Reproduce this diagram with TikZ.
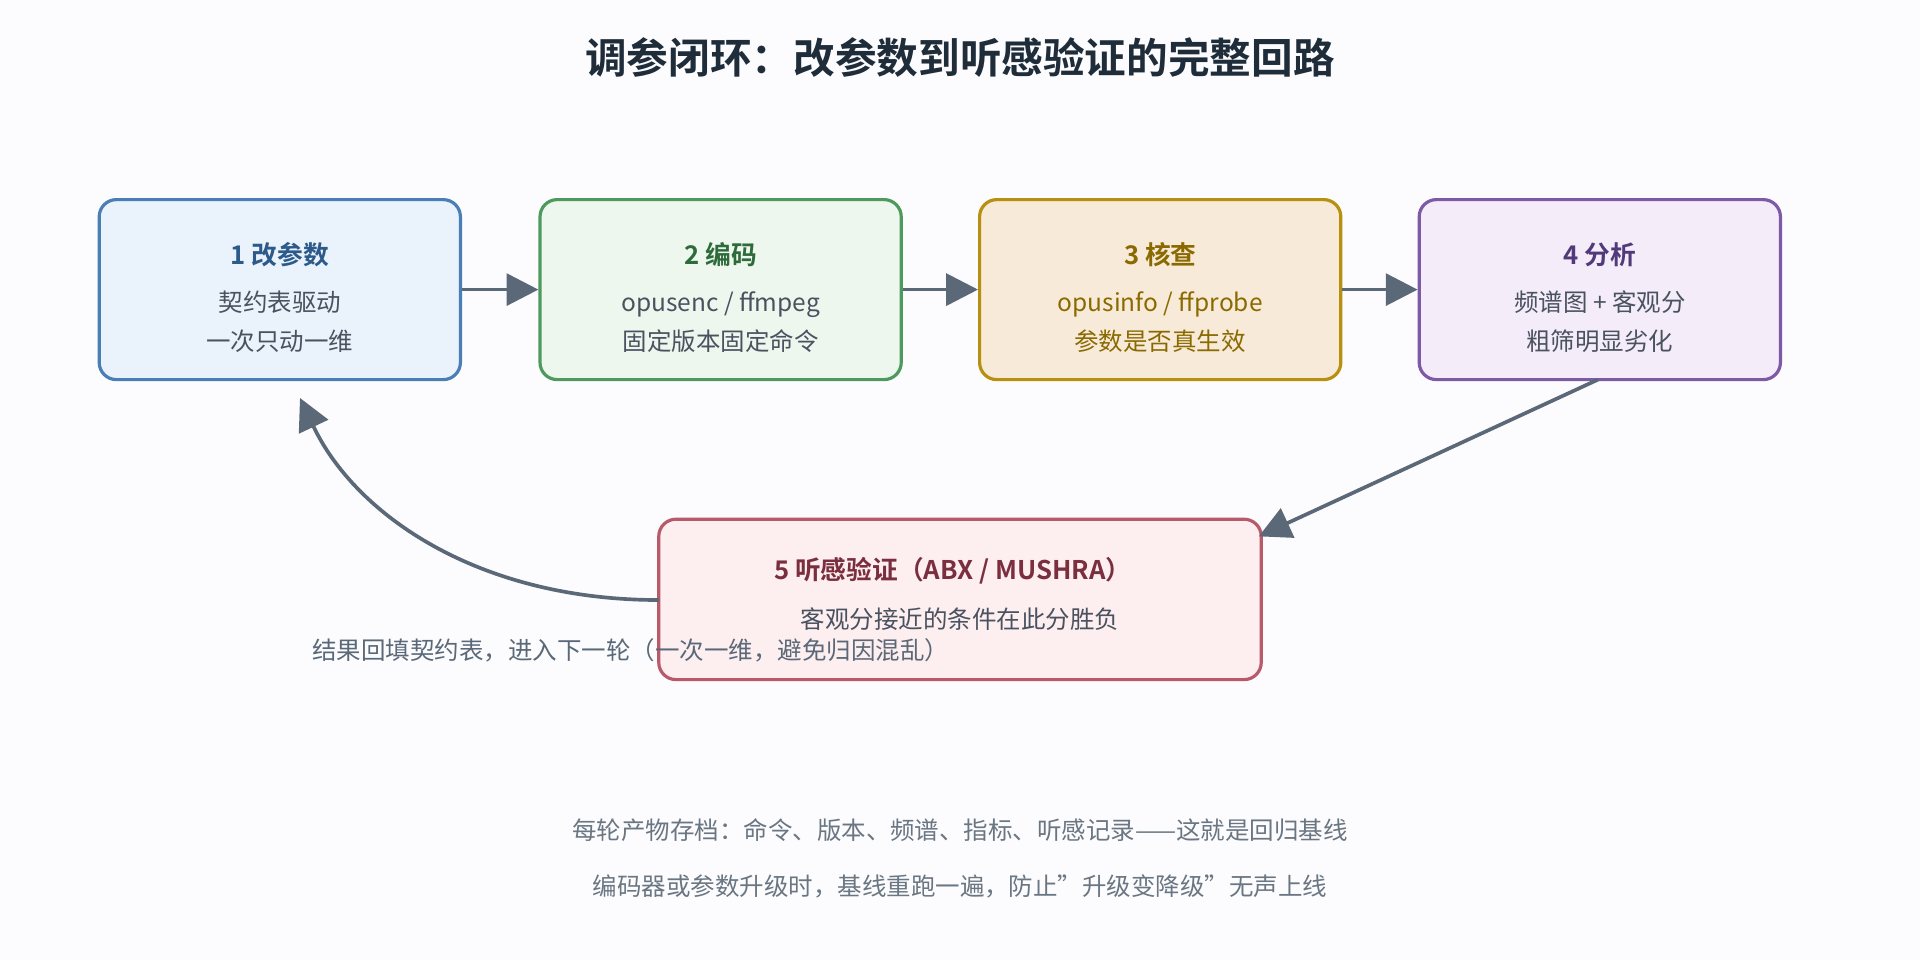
\documentclass[tikz,border=0pt]{standalone}
\usepackage{fontspec}
\setmainfont{Noto Sans CJK SC}[BoldFont={Noto Sans CJK SC Bold}]
\usetikzlibrary{arrows.meta}
\definecolor{bg}{HTML}{FCFCFE}
\definecolor{arr}{HTML}{5A6878}
\definecolor{ttl}{HTML}{1F2D3A}
\definecolor{foot}{HTML}{6A7682}
\definecolor{bA}{HTML}{4A7FB5}\definecolor{fA}{HTML}{EAF2FC}\definecolor{tA}{HTML}{2C5A8A}
\definecolor{bB}{HTML}{4E9A5E}\definecolor{fB}{HTML}{EDF7EE}\definecolor{tB}{HTML}{2E6B3A}
\definecolor{bC}{HTML}{B8900F}\definecolor{fC}{HTML}{F8EAD8}\definecolor{tC}{HTML}{8A6A00}
\definecolor{bD}{HTML}{7D5AA6}\definecolor{fD}{HTML}{F4ECF9}\definecolor{tD}{HTML}{523A7A}
\definecolor{bE}{HTML}{B85A6A}\definecolor{fE}{HTML}{FDEEF0}\definecolor{tE}{HTML}{7A2E3E}
\definecolor{body}{HTML}{4A5260}
\tikzset{
 box/.style={draw, line width=1.3pt, rounded corners=7pt, minimum width=147.5pt, minimum height=73.5pt, inner sep=0pt},
 con/.style={draw=arr, line width=1.5pt, -{Triangle[length=13pt,width=13pt]}},
 ttl/.style={font=\bfseries\fontsize{10.5}{13}\selectfont},
 bod/.style={font=\fontsize{10}{16}\selectfont, align=center, text=body}
}
\begin{document}
\begin{tikzpicture}[x=0.5pt,y=-0.5pt]
\fill[bg] (0,0) rectangle (1568,784);
\useasboundingbox (0,0) rectangle (1568,784);
\node[text=ttl, font=\bfseries\fontsize{17}{20}\selectfont] (title) at (784,47) {调参闭环：改参数到听感验证的完整回路};
\node[box, draw=bA, fill=fA] (b1) at (228.5,236.5) {};
\node[box, draw=bB, fill=fB] (b2) at (588.5,236.5) {};
\node[box, draw=bC, fill=fC] (b3) at (947.5,236.5) {};
\node[box, draw=bD, fill=fD] (b4) at (1306.5,236.5) {};
\node[box, draw=bE, fill=fE, minimum width=246pt, minimum height=65.5pt] (b5) at (784,489.5) {};
\node[ttl, text=tA] (t1) at (228.5,208) {1 改参数};
\node[bod] (d1) at (228.5,263) {契约表驱动\\一次只动一维};
\node[ttl, text=tB] (t2) at (588.5,208) {2 编码};
\node[bod] (d2) at (588.5,263) {opusenc / ffmpeg\\固定版本固定命令};
\node[ttl, text=tC] (t3) at (947.5,208) {3 核查};
\node[bod, text=tC] (d3) at (947.5,263) {opusinfo / ffprobe\\参数是否真生效};
\node[ttl, text=tD] (t4) at (1306.5,208) {4 分析};
\node[bod] (d4) at (1306.5,263) {频谱图 + 客观分\\粗筛明显劣化};
\node[ttl, text=tE] (t5) at (778,466) {5 听感验证（ABX / MUSHRA）};
\node[bod] (d5) at (784,506) {客观分接近的条件在此分胜负};
\draw[con] (b1) -- (b2);
\draw[con] (b2) -- (b3);
\draw[con] (b3) -- (b4);
\coordinate (s4) at (1305,310);
\coordinate (e5) at (1028,438);
\draw[con] (s4) -- (e5);
\coordinate (s5) at (538,490);
\coordinate (e1) at (245,325);
\draw[con] (s5) .. controls (390,490) and (290,420) .. (e1);
\node[font=\fontsize{10}{12}\selectfont, text=arr] (lbl) at (515,531) {结果回填契约表，进入下一轮（一次一维，避免归因混乱）};
\node[font=\fontsize{10}{12}\selectfont, text=foot] (f1) at (784,678) {每轮产物存档：命令、版本、频谱、指标、听感记录——这就是回归基线};
\node[font=\fontsize{10}{12}\selectfont, text=foot] (f2) at (784,724) {编码器或参数升级时，基线重跑一遍，防止"升级变降级"无声上线};
\end{tikzpicture}
\end{document}
